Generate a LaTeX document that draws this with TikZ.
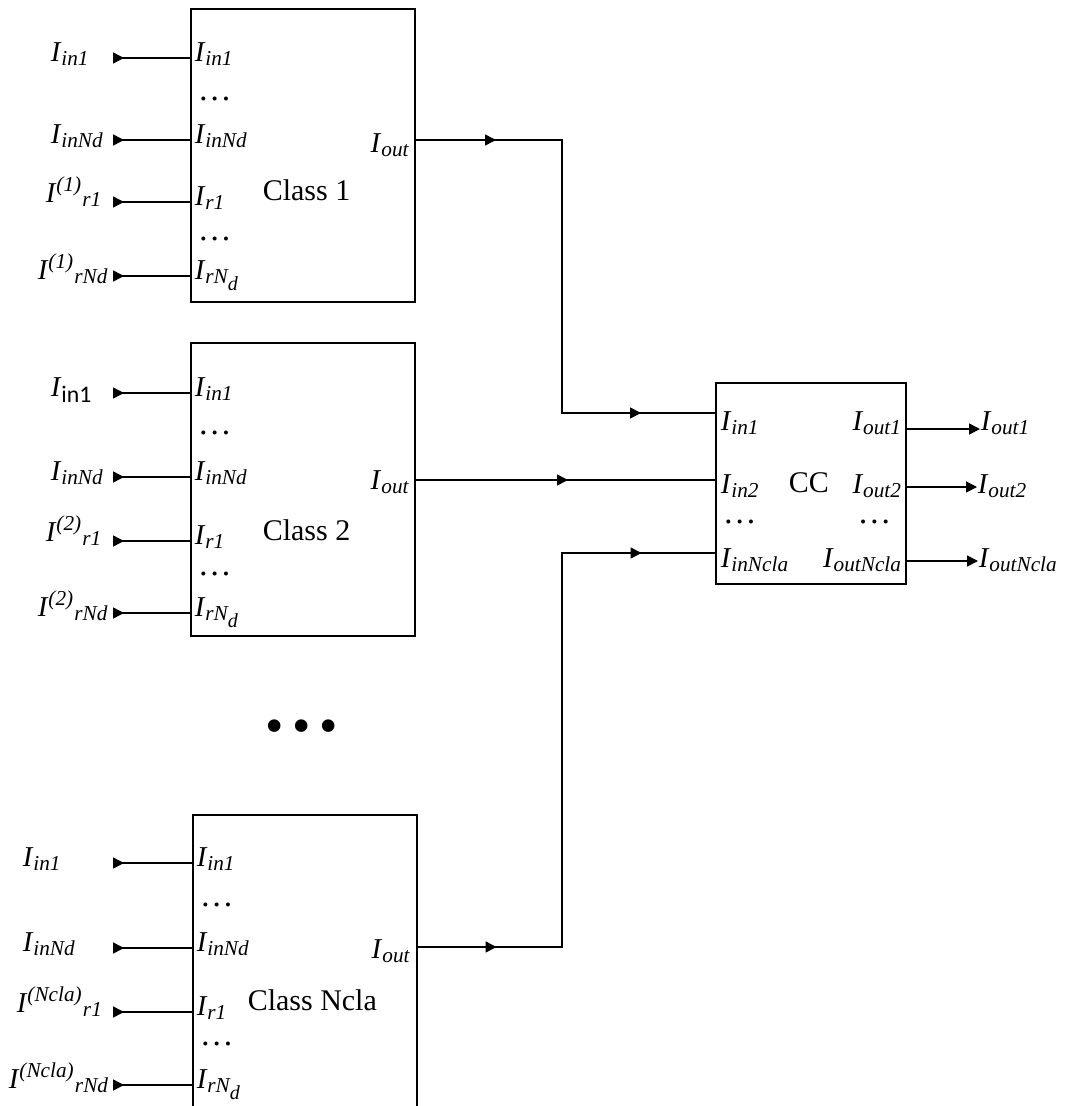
\documentclass[tikz,border=0pt]{standalone}
\usepackage{fontspec}
\setmainfont{Liberation Serif}
\newfontfamily\calfont{Carlito}
\usepackage{tikz}
\usetikzlibrary{arrows.meta,decorations.markings}

\newcommand{\subx}[1]{\textsubscript{\fontsize{8.5}{10}\selectfont\textit{#1}}}
\newcommand{\supx}[1]{\textsuperscript{\fontsize{8.5}{10}\selectfont\textit{#1}}}
\newcommand{\cur}[1]{\textit{I}\subx{#1}}
\newcommand{\ucur}[2]{\textit{I}\supx{(#1)}\subx{#2}}
\newcommand{\curd}{\textit{I}\subx{rN\textsubscript{\fontsize{8}{9}\selectfont\textit{d}}}}

\begin{document}
\begin{tikzpicture}[x=0.4pt,y=-0.4pt,>={Triangle[length=4.4pt,width=4.4pt]},semithick,
      class node/.style={draw,thick,minimum width=89.6pt,minimum height=117.2pt,inner sep=0pt},
      cc node/.style={draw,thick,minimum width=76pt,minimum height=80.4pt,inner sep=0pt},
      port/.style={font=\fontsize{11.5}{14}\selectfont,inner sep=0pt},
      gap/.style={font=\fontsize{13.5}{15}\selectfont,inner sep=0pt},
      block title/.style={font=\fontsize{12}{14}\selectfont,inner sep=0pt},
      feed/.style={postaction={decorate,decoration={markings,mark=at position 4.4pt with {\arrow{>}}}}},
      tip at/.style={postaction={decorate,decoration={markings,mark=at position #1 with {\arrow{>}}}}}]

      \clip (0,0) rectangle (1078,1106);

      \node[class node] (c1) at (303,155.5) {};
      \node[class node] (c2) at (303,489.5) {};
      \node[class node] (cN) at (304.5,961.5) {};
      \node[cc node] (cc) at (811,483.5) {};
      \coordinate (jx) at (562,0);

      % class 1
      \node[block title,anchor=base west] (c1n) at (262,200) {Class 1};
      \node[port,anchor=base west] (c1l1) at (50,61) {\cur{in1}};
      \node[port,anchor=base west] (c1l2) at (50,143) {\cur{inNd}};
      \node[port,anchor=base west] (c1l3) at (45,202) {\ucur{1}{r1}};
      \node[port,anchor=base west] (c1l4) at (37,279) {\ucur{1}{rNd}};
      \node[port,anchor=base west] (c1p1) at (194,61) {\cur{in1}};
      \node[gap,anchor=base west] (c1d1) at (197,100) {…};
      \node[port,anchor=base west] (c1p2) at (194,143) {\cur{inNd}};
      \node[port,anchor=base west] (c1p3) at (194,205) {\cur{r1}};
      \node[gap,anchor=base west] (c1d2) at (197,240) {…};
      \node[port,anchor=base west] (c1p4) at (194,279) {\curd};
      \node[port,anchor=base east] (c1o) at (411,152) {\cur{out}};
      \coordinate (c1s1) at (113,58);
      \coordinate (c1s2) at (113,140);
      \coordinate (c1s3) at (113,202);
      \coordinate (c1s4) at (113,276);

      % class 2
      \node[block title,anchor=base west] (c2n) at (262,540) {Class 2};
      \node[port,anchor=base west] (c2l1) at (50,396)
        {\textit{I}\textsubscript{\calfont\fontsize{9.5}{10}\selectfont in1}};
      \node[port,anchor=base west] (c2l2) at (50,480) {\cur{inNd}};
      \node[port,anchor=base west] (c2l3) at (45,541) {\ucur{2}{r1}};
      \node[port,anchor=base west] (c2l4) at (37,616) {\ucur{2}{rNd}};
      \node[port,anchor=base west] (c2p1) at (194,396) {\cur{in1}};
      \node[gap,anchor=base west] (c2d1) at (197,434) {…};
      \node[port,anchor=base west] (c2p2) at (194,480) {\cur{inNd}};
      \node[port,anchor=base west] (c2p3) at (194,544) {\cur{r1}};
      \node[gap,anchor=base west] (c2d2) at (197,575) {…};
      \node[port,anchor=base west] (c2p4) at (194,616) {\curd};
      \node[port,anchor=base east] (c2o) at (411,489) {\cur{out}};
      \coordinate (c2s1) at (113,393);
      \coordinate (c2s2) at (113,477);
      \coordinate (c2s3) at (113,541);
      \coordinate (c2s4) at (113,613);

      \node[font=\fontsize{21}{24}\selectfont,inner sep=0pt] (more) at (302,732)
        {\textbullet\hspace{3.4pt}\textbullet\hspace{3.4pt}\textbullet};

      % class Ncla
      \node[block title,anchor=base west] (cNn) at (247,1010) {Class Ncla};
      \node[port,anchor=base west] (cNl1) at (22,866) {\cur{in1}};
      \node[port,anchor=base west] (cNl2) at (22,951) {\cur{inNd}};
      \node[port,anchor=base west] (cNl3) at (16,1012) {\ucur{Ncla}{r1}};
      \node[port,anchor=base west] (cNl4) at (8,1088) {\ucur{Ncla}{rNd}};
      \node[port,anchor=base west] (cNp1) at (196,866) {\cur{in1}};
      \node[gap,anchor=base west] (cNd1) at (199,906) {…};
      \node[port,anchor=base west] (cNp2) at (196,951) {\cur{inNd}};
      \node[port,anchor=base west] (cNp3) at (196,1015) {\cur{r1}};
      \node[gap,anchor=base west] (cNd2) at (199,1045) {…};
      \node[port,anchor=base west] (cNp4) at (196,1088) {\curd};
      \node[port,anchor=base east] (cNo) at (412,958) {\cur{out}};
      \coordinate (cNs1) at (113,863);
      \coordinate (cNs2) at (113,948);
      \coordinate (cNs3) at (113,1012);
      \coordinate (cNs4) at (113,1085);

      % CC block
      \node[block title,anchor=base west] (ccn) at (788,492) {CC};
      \node[port,anchor=base west] (cci1) at (720,430) {\cur{in1}};
      \node[port,anchor=base west] (cci2) at (720,493) {\cur{in2}};
      \node[gap,anchor=base west] (ccdl) at (722,523) {…};
      \node[port,anchor=base west] (cci3) at (720,567) {\cur{inNcla}};
      \node[port,anchor=base east] (cco1) at (903,430) {\cur{out1}};
      \node[port,anchor=base east] (cco2) at (903,493) {\cur{out2}};
      \node[gap,anchor=base east] (ccdr) at (892,523) {…};
      \node[port,anchor=base east] (cco3) at (903,567) {\cur{outNcla}};
      \node[port,anchor=base west] (out1) at (980,430) {\cur{out1}};
      \node[port,anchor=base west] (out2) at (977,493) {\cur{out2}};
      \node[port,anchor=base west] (out3) at (978,567) {\cur{outNcla}};
      \coordinate (ccin1) at (716,413);
      \coordinate (ccin2) at (716,480);
      \coordinate (ccin3) at (716,553);

      \path[every edge/.append style={feed}]
      (c1s1) edge (c1s1 -| c1.west)
      (c1s2) edge (c1s2 -| c1.west)
      (c1s3) edge (c1s3 -| c1.west)
      (c1s4) edge (c1s4 -| c1.west)
      (c2s1) edge (c2s1 -| c2.west)
      (c2s2) edge (c2s2 -| c2.west)
      (c2s3) edge (c2s3 -| c2.west)
      (c2s4) edge (c2s4 -| c2.west)
      (cNs1) edge (cNs1 -| cN.west)
      (cNs2) edge (cNs2 -| cN.west)
      (cNs3) edge (cNs3 -| cN.west)
      (cNs4) edge (cNs4 -| cN.west);

      \draw[tip at=32pt,tip at=199.2pt] (c1.east |- 0,140) -- (jx |- 0,140) |- (ccin1);
      \draw[tip at=60.8pt] (c2.east |- ccin2) -- (ccin2);
      \draw[tip at=31.6pt,tip at=247.2pt] (cN.east |- 0,947) -- (jx |- 0,947) |- (ccin3);

      \draw[->] (cc.east |- 0,429) -- (out1.west |- 0,429);
      \draw[->] (cc.east |- 0,487) -- (out2.west |- 0,487);
      \draw[->] (cc.east |- 0,561) -- (out3.west |- 0,561);
    \end{tikzpicture}
\end{document}
